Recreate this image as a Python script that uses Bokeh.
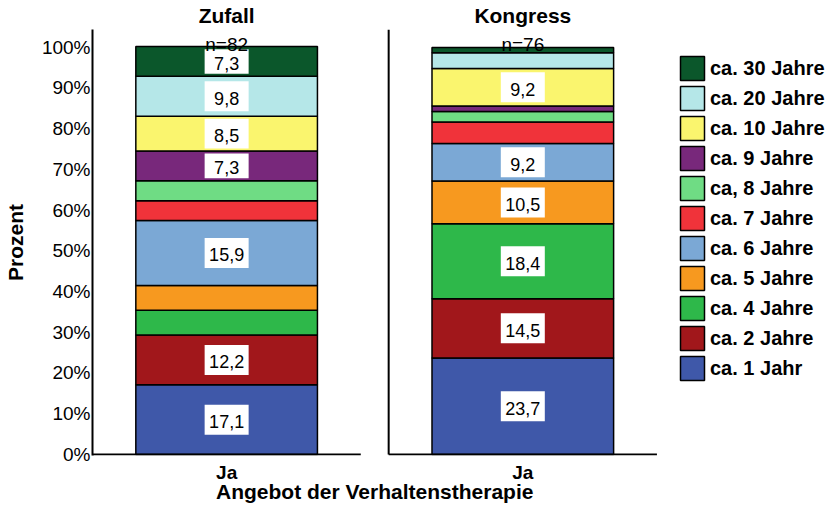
from bokeh.plotting import figure
from bokeh.models import (ColumnDataSource, Range1d, FixedTicker, Label, Legend, LegendItem,
                          LinearAxis)
from bokeh.core.properties import value
from bokeh.embed import file_html
from bokeh.resources import INLINE

# ---------------- data ----------------
groups = ["Zufall", "Kongress"]
group_n = ["n=82", "n=76"]
x_labels = ["Ja", "Ja"]
categories = ["ca. 1 Jahr", "ca. 2 Jahre", "ca. 4 Jahre", "ca. 5 Jahre", "ca. 6 Jahre",
              "ca. 7 Jahre", "ca, 8 Jahre", "ca. 9 Jahre", "ca. 10 Jahre", "ca. 20 Jahre",
              "ca. 30 Jahre"]
zufall = [17.1, 12.2, 6.1, 6.1, 15.9, 4.9, 4.9, 7.3, 8.5, 9.8, 7.3]
kongress = [23.7, 14.5, 18.4, 10.5, 9.2, 5.3, 2.6, 1.3, 9.2, 3.9, 1.3]
colors = ["#3F58A9", "#A1171B", "#2EB84A", "#F7991F", "#7BA8D5", "#F0333A",
          "#6FDC84", "#78287B", "#FAF56E", "#B5E7E8", "#0B572B"]
y_ticks = [0, 10, 20, 30, 40, 50, 60, 70, 80, 90, 100]
y_tick_labels = ["0%", "10%", "20%", "30%", "40%", "50%", "60%", "70%", "80%", "90%", "100%"]
x_axis_title = "Angebot der Verhaltenstherapie"
y_axis_title = "Prozent"

# ---------------- layout constants ----------------
FONT = "Liberation Sans"
W, H = 828, 505
GAP = 0.104
PANEL_PX = 269.0
x_pos = [0.5, 1.5 + GAP]
title_x = (2 + GAP) / 2
PX = 4.066
Y_BOT = -0.25
Y_TOP = 104.3
LEFT = 85
X_END = (W - 5 - LEFT) / PANEL_PX
LABEL_MIN = 7.0
BOX_W, BOX_H = 44, 30

p = figure(width=W, height=H, output_backend="svg", toolbar_location=None,
           x_range=Range1d(0, X_END), y_range=Range1d(Y_BOT, Y_TOP),
           min_border_left=LEFT, min_border_right=0, min_border_top=0, min_border_bottom=0)
p.outline_line_color = None
p.xgrid.grid_line_color = None
p.ygrid.grid_line_color = None
p.background_fill_color = "white"

series = [zufall, kongress]
data = {"x": x_pos}
keys = [f"c{i}" for i in range(len(categories))]
for i, k in enumerate(keys):
    data[k] = [zufall[i], kongress[i]]
src = ColumnDataSource(data)
rs = p.vbar_stack(keys, x="x", width=0.677, fill_color=colors, line_color="black",
                  line_width=1.5, source=src)

# value labels in white boxes
lx, ly, lt, lh = [], [], [], []
for gi, vals in enumerate(series):
    bottom = 0.0
    for v in vals:
        if v >= LABEL_MIN:
            lx.append(x_pos[gi])
            ly.append(bottom + v / 2)
            lt.append(f"{v:.1f}".replace(".", ","))
            lh.append(min(BOX_H, v * PX - 5))
        bottom += v
p.rect(x=lx, y=ly, width=BOX_W, height=lh, width_units="screen", height_units="screen",
       fill_color="white", line_color=None)
p.text(x=lx, y=ly, text=lt, text_align="center", text_baseline="middle", y_offset=2,
       text_font=value(FONT), text_font_size="18px", text_color="black")

# panel frame lines
p.segment(x0=[0, 1 + GAP, 1 + GAP], y0=[0, 0, 0], x1=[1, 2 + GAP, 1 + GAP], y1=[0, 0, Y_TOP],
          line_color="black", line_width=2)

# y axis
ya = p.yaxis[0]
ya.ticker = FixedTicker(ticks=y_ticks)
ya.major_label_overrides = dict(zip(y_ticks, y_tick_labels))
ya.major_tick_line_color = None
ya.major_tick_out = 0
ya.major_tick_in = 0
ya.minor_tick_line_color = None
ya.major_label_standoff = 2
ya.axis_line_width = 2
ya.major_label_text_font = FONT
ya.major_label_text_font_size = "19px"
ya.major_label_text_color = "black"
ya.axis_label = y_axis_title
ya.axis_label_text_font = FONT
ya.axis_label_text_font_size = "21px"
ya.axis_label_text_font_style = "bold"
ya.axis_label_text_color = "black"
ya.axis_label_standoff = 12

# x axis ("Ja")
xa = p.xaxis[0]
xa.ticker = FixedTicker(ticks=x_pos)
xa.major_label_overrides = dict(zip(x_pos, x_labels))
xa.axis_line_color = None
xa.major_tick_line_color = None
xa.major_tick_out = 0
xa.major_tick_in = 0
xa.minor_tick_line_color = None
xa.major_label_standoff = 6
xa.major_label_text_font = FONT
xa.major_label_text_font_size = "19px"
xa.major_label_text_font_style = "bold"
xa.major_label_text_color = "black"
xa.major_label_text_line_height = 1.0

# x axis title, centred under both panels
ta = LinearAxis(ticker=FixedTicker(ticks=[title_x]),
                major_label_overrides={title_x: x_axis_title},
                axis_line_color=None, major_tick_line_color=None, minor_tick_line_color=None,
                major_tick_out=0, major_tick_in=0,
                major_label_standoff=-6, major_label_text_font=FONT,
                major_label_text_font_size="21px", major_label_text_font_style="bold",
                major_label_text_color="black", major_label_text_line_height=1.0)
p.add_layout(ta, "below")

# group titles as a top axis
top = LinearAxis(ticker=FixedTicker(ticks=x_pos),
                 major_label_overrides=dict(zip(x_pos, groups)),
                 axis_line_color=None, major_tick_line_color=None, minor_tick_line_color=None,
                 major_tick_out=0, major_tick_in=0,
                 major_label_standoff=3, major_label_text_font=FONT,
                 major_label_text_font_size="21px", major_label_text_font_style="bold",
                 major_label_text_color="black")
p.add_layout(top, "above")

for gi in range(len(groups)):
    p.add_layout(Label(x=x_pos[gi], y=100.5, text=group_n[gi], text_align="center",
                       text_baseline="alphabetic", text_font=FONT, text_font_size="19px",
                       text_color="black"))

items = [LegendItem(label=categories[i], renderers=[rs[i]]) for i in reversed(range(len(categories)))]
legend = Legend(items=items, location=(585, 72), glyph_width=30, glyph_height=30, spacing=0,
                label_standoff=3, label_height=30, padding=0, margin=0,
                border_line_color=None, background_fill_alpha=0,
                label_text_font=FONT, label_text_font_size="20px",
                label_text_font_style="bold", label_text_color="black")
p.add_layout(legend)

open("out.html", "w").write(file_html(p, INLINE))
